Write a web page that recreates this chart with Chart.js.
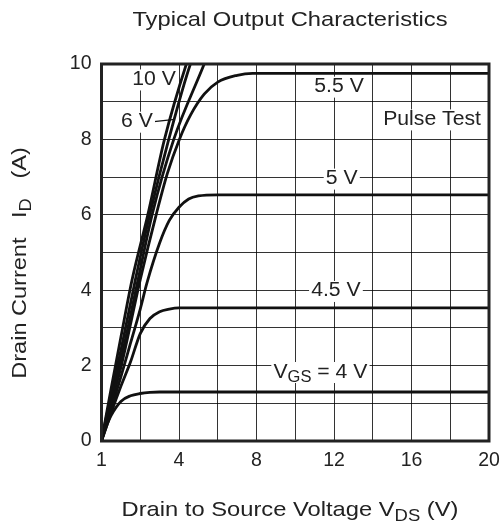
<!DOCTYPE html>
<html>
<head>
<meta charset="utf-8">
<script src="https://cdn.jsdelivr.net/npm/chart.js@4.4.1/dist/chart.umd.min.js"></script>
<style>
  body { margin: 0; background: #fff; }
  #wrap { width: 501px; height: 528px; }
</style>
</head>
<body>
<div id="wrap"><canvas id="output-chart" width="501" height="528"></canvas></div>
<script>
// ticks
var xTickValues = [0, 4, 8, 12, 16, 20];
var xTickLabels = ["1", "4", "8", "12", "16", "20"];
var yTickValues = [0, 2, 4, 6, 8, 10];
var yTickLabels = ["0", "2", "4", "6", "8", "10"];

// curves, VGS = ... (VDS in V, ID in A)
var vds10 = [0, 0.5, 1, 1.58, 2.39, 3.25, 4.38, 4.8];
var id10  = [0, 1.4, 2.75, 4.28, 6, 8, 10, 10.6];
var vds8  = [0, 0.5, 1, 1.75, 2.49, 3.47, 4.59, 5.0];
var id8   = [0, 1.25, 2.4, 4.28, 6, 8, 10, 10.5];
var vds6  = [0, 0.5, 1, 1.89, 2.61, 3.73, 5.3, 5.6];
var id6   = [0, 1.1, 2.15, 4.28, 6, 8, 10, 10.4];
var vds55 = [0, 0.5, 1, 2.0, 2.82, 3.4, 4.02, 4.6, 5.3, 6, 7, 7.8, 20];
var id55  = [0, 1.0, 1.95, 4.28, 6, 7.1, 8, 8.65, 9.2, 9.52, 9.7, 9.75, 9.75];
var vds5  = [0, 0.5, 1, 1.5, 2, 2.35, 3, 3.5, 4, 4.5, 5, 6, 20];
var id5   = [0, 0.85, 1.7, 2.6, 3.5, 4.2, 5.25, 5.85, 6.2, 6.42, 6.5, 6.53, 6.53];
var vds45 = [0, 0.5, 1, 1.5, 2, 2.5, 3, 3.5, 4, 20];
var id45  = [0, 0.75, 1.45, 2.1, 2.85, 3.25, 3.43, 3.5, 3.53, 3.53];
var vds4  = [0, 0.25, 0.5, 1, 1.5, 2, 2.5, 3, 20];
var id4   = [0, 0.38, 0.68, 1.05, 1.2, 1.26, 1.29, 1.3, 1.3];

function pts(xs, ys) {
    return xs.map(function (x, i) { return {x: x, y: ys[i]}; });
}

function curve(label, xs, ys) {
    return {
        label: label,
        data: pts(xs, ys),
        borderColor: "#111",
        borderWidth: 2.8,
        pointRadius: 0,
        fill: false,
        cubicInterpolationMode: 'monotone'
    };
}

var FONT = '"Liberation Sans", Arial, sans-serif';

// text written on the plot, in data units
var notes = [
    {x: 2.71, y: 9.59, parts: [{t: "10 V"}]},
    {x: 1.83, y: 8.47, parts: [{t: "6 V"}], lead: [3.79, 8.53]},
    {x: 12.26, y: 9.40, parts: [{t: "5.5 V"}]},
    {x: 17.06, y: 8.53, parts: [{t: "Pulse Test"}]},
    {x: 12.4, y: 6.96, parts: [{t: "5 V"}]},
    {x: 12.1, y: 3.98, parts: [{t: "4.5 V"}]},
    {x: 11.3, y: 1.83, parts: [{t: "V"}, {t: "GS", sub: true}, {t: " = 4 V"}]}
];

function richWidth(ctx, parts, size) {
    var w = 0;
    parts.forEach(function (p) {
        ctx.font = (p.sub ? size * 0.78 : size) + 'px ' + FONT;
        w += ctx.measureText(p.t).width;
    });
    return w;
}

// draws text with subscripts, centred on (cx, cy), stretched sideways by k
function drawRich(ctx, parts, cx, cy, size, bg, k) {
    k = k || 1;
    var w = richWidth(ctx, parts, size);
    ctx.save();
    ctx.translate(cx, cy);
    ctx.scale(k, 1);
    var x = -w / 2;
    if (bg) {
        ctx.fillStyle = "#fff";
        ctx.fillRect(x - 2, -size * 0.5, w + 4, size * 1.05);
    }
    ctx.fillStyle = "#222";
    ctx.textBaseline = 'middle';
    ctx.textAlign = 'left';
    parts.forEach(function (p) {
        ctx.font = (p.sub ? size * 0.78 : size) + 'px ' + FONT;
        ctx.fillText(p.t, x, p.sub ? size * 0.3 : 0);
        x += ctx.measureText(p.t).width;
    });
    ctx.restore();
    return w * k;
}

var decor = {
    id: 'decor',
    beforeDatasetsDraw: function (chart) {
        var ctx = chart.ctx;
        var sx = chart.scales.x, sy = chart.scales.y;
        ctx.save();
        notes.forEach(function (n) {
            var px = sx.getPixelForValue(n.x), py = sy.getPixelForValue(n.y);
            if (n.lead) {
                var w = richWidth(ctx, n.parts, 20) * 1.06;
                ctx.strokeStyle = "#111";
                ctx.lineWidth = 1.2;
                ctx.beginPath();
                ctx.moveTo(px + w / 2 + 1, py);
                ctx.lineTo(sx.getPixelForValue(n.lead[0]), sy.getPixelForValue(n.lead[1]));
                ctx.stroke();
            }
            drawRich(ctx, n.parts, px, py, 20, true, 1.06);
        });
        ctx.restore();
    },
    afterDatasetsDraw: function (chart) {
        var ctx = chart.ctx, a = chart.chartArea;
        ctx.save();
        ctx.strokeStyle = "#222";
        ctx.lineWidth = 3;
        ctx.strokeRect(a.left, a.top, a.right - a.left, a.bottom - a.top);
        ctx.restore();
    },
    afterDraw: function (chart) {
        var ctx = chart.ctx;
        ctx.save();
        drawRich(ctx, [{t: "Typical Output Characteristics"}], 290, 20, 21, false, 1.13);
        drawRich(ctx, [{t: "Drain to Source Voltage V"}, {t: "DS", sub: true}, {t: " (V)"}], 290, 510, 21, false, 1.13);
        ctx.translate(20, 263);
        ctx.rotate(-Math.PI / 2);
        drawRich(ctx, [{t: "Drain Current   I"}, {t: "D", sub: true}, {t: "   (A)"}], 0, 0, 21, false, 1.12);
        ctx.restore();
    }
};

var ctx = document.getElementById("output-chart");
var outputChart = new Chart(ctx, {
    type: 'line',
    data: {
        datasets: [
            curve("10 V", vds10, id10),
            curve("8 V", vds8, id8),
            curve("6 V", vds6, id6),
            curve("5.5 V", vds55, id55),
            curve("5 V", vds5, id5),
            curve("4.5 V", vds45, id45),
            curve("4 V", vds4, id4)
        ]
    },
    options: {
        responsive: false,
        animation: false,
        layout: {padding: {left: 0, top: 64, right: 12, bottom: 0}},
        plugins: {
            legend: {display: false},
            tooltip: {enabled: false}
        },
        scales: {
            x: {
                type: 'linear',
                min: 0,
                max: 20,
                ticks: {
                    stepSize: 2,
                    autoSkip: false,
                    maxRotation: 0,
                    padding: 8,
                    color: "#222",
                    font: {family: FONT, size: 19.5},
                    callback: function (v) {
                        var i = xTickValues.indexOf(v);
                        return i >= 0 ? xTickLabels[i] : '';
                    }
                },
                grid: {color: "rgba(0,0,0,0.8)", lineWidth: 1, drawTicks: false},
                border: {display: false},
                afterFit: function (s) {
                    s.height = 87;
                    s.paddingLeft = 0;
                    s.paddingRight = 0;
                }
            },
            y: {
                min: 0,
                max: 10,
                ticks: {
                    stepSize: 1,
                    autoSkip: false,
                    padding: 10,
                    color: "#222",
                    font: {family: FONT, size: 19.5},
                    callback: function (v) {
                        var i = yTickValues.indexOf(v);
                        return i >= 0 ? yTickLabels[i] : '';
                    }
                },
                grid: {color: "rgba(0,0,0,0.8)", lineWidth: 1, drawTicks: false},
                border: {display: false},
                afterFit: function (s) {
                    s.width = 101.5;
                    s.paddingTop = 0;
                    s.paddingBottom = 0;
                }
            }
        }
    },
    plugins: [decor]
});
</script>
</body>
</html>
